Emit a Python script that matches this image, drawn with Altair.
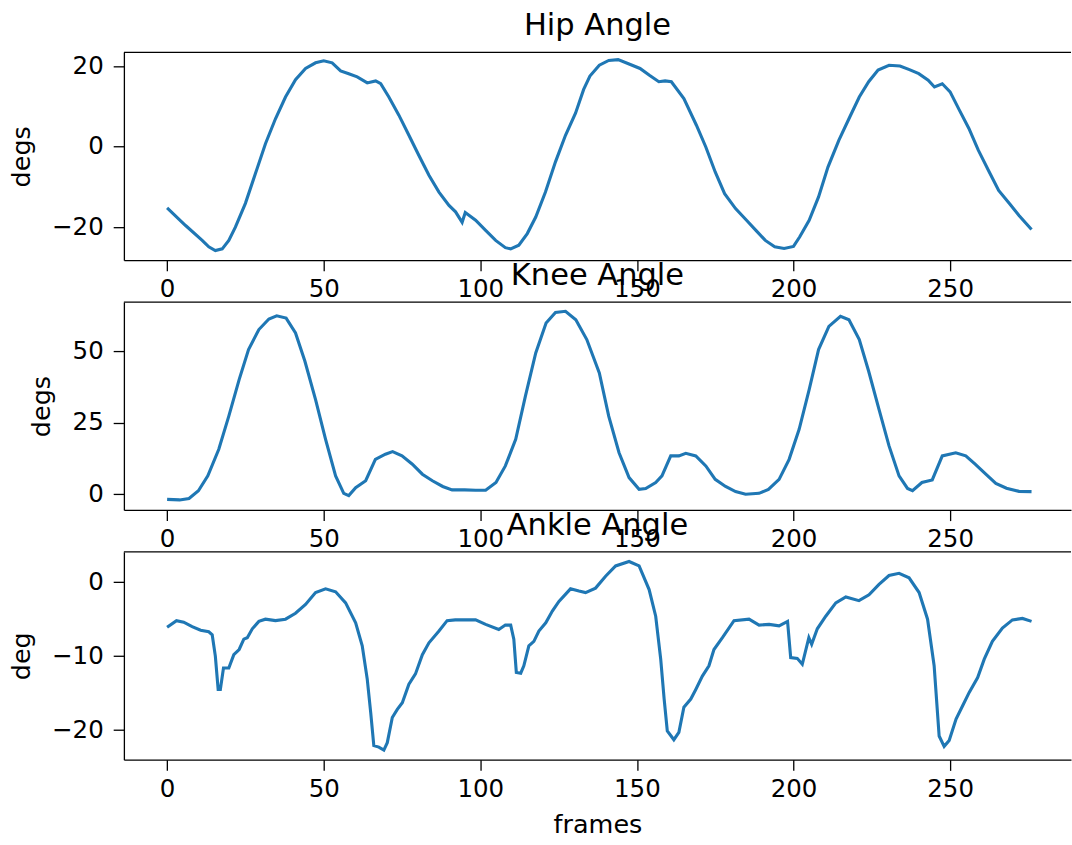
import altair as alt
import pandas as pd

# ---- data ----
hip_frames = [0, 5.9, 11.2, 13.3, 15.4, 17.6, 19.7, 21.8, 25, 28.2, 31.4, 34.6, 37.8, 41, 44.2, 47.4, 50,
              52.7, 55.4, 58, 60.7, 63.9, 66.6, 68.2, 70.8, 74, 77.2, 80.4, 83.6, 86.8, 90, 92.1, 94.2, 95.2,
              98.5, 101.7, 104.9, 108, 109.7, 112.3, 115, 117.7, 120.8, 124, 127.2, 130.4, 133, 135, 138,
              141, 144, 147.5, 151, 154, 157, 159, 161, 165, 169, 172, 175, 178, 181.5, 185, 188, 191, 194,
              197, 200, 202, 205, 208, 211, 214.5, 218, 221, 224, 227, 230.5, 234, 237, 240, 243, 245,
              247.5, 250, 253, 256, 259, 262.5, 265.5, 269, 272, 276]
hip_deg = [-15.2, -19.6, -23.3, -24.9, -25.8, -25.4, -23.3, -20.0, -14.1, -6.7, 0.7, 6.9, 12.3, 16.6, 19.4,
           20.8, 21.3, 20.8, 18.8, 18.1, 17.3, 15.8, 16.3, 15.6, 12.3, 7.8, 2.8, -2.2, -7.1, -11.3, -14.6,
           -16.2, -18.8, -16.4, -18.3, -20.8, -23.3, -25.1, -25.4, -24.5, -21.6, -17.5, -11.3, -3.8, 2.8,
           8.3, 14.2, 17.5, 20.2, 21.4, 21.6, 20.5, 19.4, 17.7, 16.1, 16.3, 16.1, 11.9, 5.3, -0.1, -6.3,
           -11.7, -15.4, -18.3, -20.8, -23.3, -24.9, -25.3, -24.8, -22.4, -18.3, -12.5, -5.1, 1.6, 7.4,
           12.3, 16.1, 19.0, 20.2, 20.0, 19.1, 18.1, 16.5, 14.8, 15.6, 13.6, 9.0, 4.5, -0.9, -6.3, -10.9,
           -14.2, -17.1, -20.6]

knee_frames = [0, 4, 7, 10, 13, 16.5, 19.7, 23, 26, 29.3, 32.5, 35, 38, 41, 44, 47.4, 50.6, 53.8, 56.4, 58,
               60.2, 63.4, 66.5, 69.7, 72, 75, 78.3, 81.5, 84.7, 88, 91, 95, 98.5, 101.7, 105, 108, 111.3,
               114.4, 117.7, 121, 124, 127.2, 130.5, 134, 138, 141, 144.3, 147.5, 150.7, 152.8, 156, 158,
               160.8, 163.4, 165.6, 168.8, 172, 175, 178.3, 181.5, 184.7, 189, 192, 195.4, 198.6, 201.8,
               205, 208, 211.3, 215, 217.7, 221, 224, 227.3, 230.5, 233.7, 236.4, 238, 241, 244.3, 247.5,
               251.8, 255, 258, 261.4, 264.6, 268, 272, 276]
knee_deg = [-1.8, -2.0, -1.5, 1.2, 6.4, 15.7, 27.3, 40.1, 50.6, 57.6, 61.3, 62.4, 61.6, 56.4, 46.5, 33.1,
            19.2, 6.4, 0.3, -0.5, 2.3, 4.7, 12.2, 14.0, 14.9, 13.4, 10.5, 7.0, 4.7, 2.7, 1.5, 1.5, 1.4, 1.4,
            4.1, 9.9, 19.2, 34.3, 49.4, 59.9, 63.6, 64.0, 61.0, 54.1, 42.4, 27.3, 14.5, 5.8, 1.7, 2.0, 4.1,
            6.4, 13.4, 13.4, 14.3, 13.4, 9.9, 5.2, 2.7, 0.9, 0.0, 0.3, 1.7, 5.2, 12.2, 22.7, 36.6, 50.6,
            58.7, 62.2, 61.0, 54.1, 43.0, 29.7, 16.9, 6.4, 2.0, 1.2, 4.1, 5.0, 13.4, 14.5, 13.4, 10.5, 7.0,
            3.8, 2.1, 1.0, 0.9]

ankle_frames = [0, 3, 5.3, 8, 10.7, 13.3, 14.4, 15.4, 16.3, 17, 18, 19.7, 21.3, 23, 24.5, 25.6, 27.2, 29.3,
                31.4, 34.6, 37.8, 41, 44.2, 47.4, 50.6, 53.8, 57, 60.2, 62.3, 63.9, 65, 66, 67.6, 69.2,
                70.3, 71.9, 73.5, 75.1, 77.2, 79.3, 81.5, 83.6, 86.8, 89.4, 92, 95.3, 98.5, 101.7, 105.9,
                108, 109.7, 110.7, 111.5, 112.9, 113.9, 115.5, 117.1, 118.7, 120.9, 123, 125.1, 128.8,
                131.5, 133.6, 136.8, 140, 143.2, 147.5, 150.7, 153.9, 156, 157.6, 158.7, 159.7, 161.8,
                163.4, 165, 167.2, 168.8, 170.9, 173, 174.6, 177.3, 181, 185.8, 189, 192.2, 195.4, 198.1,
                199.1, 201.2, 202.8, 204.9, 205.8, 207.6, 210.3, 213.5, 216.7, 220.9, 224.1, 227.3, 230.5,
                233.7, 236.9, 240.1, 242.8, 244.9, 246.5, 248.1, 249.7, 251.9, 254, 256.1, 258.8, 260.9,
                263.5, 266.7, 269.9, 273.1, 276]
ankle_deg = [-6.1, -5.2, -5.4, -6.0, -6.5, -6.7, -7.1, -10.0, -14.5, -14.5, -11.6, -11.6, -9.8, -9.1, -7.7,
             -7.5, -6.3, -5.3, -5.0, -5.2, -5.0, -4.2, -3.0, -1.4, -0.9, -1.3, -2.8, -5.5, -8.6, -13.1,
             -17.6, -22.1, -22.3, -22.7, -21.7, -18.3, -17.2, -16.3, -13.8, -12.4, -9.8, -8.2, -6.6, -5.2,
             -5.1, -5.1, -5.1, -5.7, -6.4, -5.8, -5.8, -7.7, -12.2, -12.3, -11.3, -8.6, -8.0, -6.6, -5.5,
             -3.9, -2.6, -0.9, -1.2, -1.4, -0.8, 0.8, 2.2, 2.8, 2.2, -1.0, -4.6, -10.4, -15.8, -20.1,
             -21.3, -20.3, -16.9, -15.8, -14.5, -12.7, -11.3, -9.1, -7.5, -5.2, -5.0, -5.8, -5.7, -5.9,
             -5.3, -10.2, -10.3, -11.1, -7.5, -8.4, -6.3, -4.6, -2.8, -2.0, -2.5, -1.7, -0.3, 0.9, 1.2,
             0.6, -1.4, -5.0, -11.3, -20.8, -22.2, -21.4, -18.5, -16.7, -14.9, -12.9, -10.4, -8.0, -6.2,
             -5.1, -4.9, -5.3]

x_ticks = [0, 50, 100, 150, 200, 250]
# title, y label, frames, values, y domain, y ticks, y-label x position
panels = [
    ("Hip Angle", "degs", hip_frames, hip_deg, [-28.2, 23.4], [-20, 0, 20], -89),
    ("Knee Angle", "degs", knee_frames, knee_deg, [-5.5, 67.2], [0, 25, 50], -69),
    ("Ankle Angle", "deg", ankle_frames, ankle_deg, [-24.0, 4.1], [-20, -10, 0], -89),
]

X_DOMAIN = [-13.8, 288.6]
W, H = 948, 208
FONT = "DejaVu Sans"

charts = []
for i, (ttl, ylab, fr, vals, ydom, yticks, tx) in enumerate(panels):
    df = pd.DataFrame({"frame": fr, "value": vals})
    last = i == len(panels) - 1
    line = alt.Chart(df).mark_line(color="#1f77b4", strokeWidth=3.1).encode(
        x=alt.X("frame:Q", scale=alt.Scale(domain=X_DOMAIN, nice=False, zero=False),
                axis=alt.Axis(values=x_ticks, title="frames" if last else None)),
        y=alt.Y("value:Q", scale=alt.Scale(domain=ydom, nice=False, zero=False),
                axis=alt.Axis(values=yticks, title=ylab, titleX=tx, titleY=H / 2,
                              titleAngle=270, titleAlign="center", titleBaseline="bottom",
                              labelExpr="replace(datum.label, '-', '\u2212')")),
    )
    top = alt.Chart(pd.DataFrame({"a": [0]})).mark_rule(color="black", strokeWidth=1.3).encode(
        y=alt.value(0)
    )
    charts.append(alt.layer(line, top).properties(width=W, height=H, title=ttl))

chart = alt.vconcat(*charts, spacing=42, bounds="flush").resolve_scale(y="independent").properties(
    padding={"left": 10, "top": 10, "right": 0, "bottom": 0}, background="white"
).configure_view(stroke=None).configure_axis(
    grid=False, domainColor="black", domainWidth=1.3, tickColor="black", tickWidth=1.3, tickSize=10.7,
    labelColor="black", labelFont=FONT, labelFontSize=24.5, labelPadding=10, labelFlush=False,
    labelOverlap=False, labelAngle=0, titleColor="black", titleFont=FONT, titleFontSize=25.5,
    titleFontWeight="normal", titlePadding=12,
).configure_axisX(labelPadding=7, titlePadding=12).configure_title(
    font=FONT, fontSize=30.5, fontWeight="normal", color="black", anchor="middle", frame="group",
    baseline="alphabetic", offset=10,
)

chart.save("out.html", embed_options={"renderer": "svg", "actions": False})
